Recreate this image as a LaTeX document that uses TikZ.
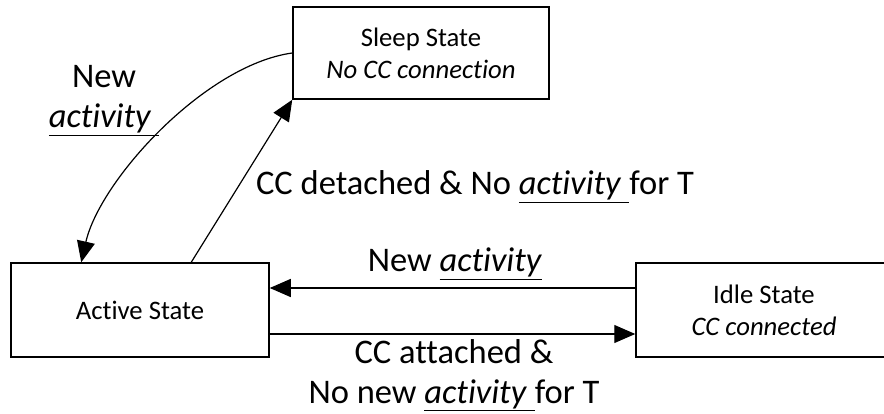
\documentclass[tikz,border=0pt]{standalone}
\usepackage{fontspec}
\setmainfont{Carlito}[Ligatures=NoCommon]
\usetikzlibrary{arrows.meta,calc}
\begin{document}
\begin{tikzpicture}[x=1pt,y=-1pt,
  box/.style={draw, line width=1.5pt, align=center, inner sep=0pt, font=\fontsize{26.7}{32}\selectfont},
  lbl/.style={align=center, inner sep=0pt, font=\fontsize{34.5}{40}\selectfont},
  arr/.style={line width=1.2pt, -{Triangle[length=21pt,width=18pt]}}]
\useasboundingbox (0,0) rectangle (884,414);
\node[box, minimum width=256pt, minimum height=92pt] (sleep) at (421,53) {Sleep State\\\textit{No CC connection}};
\node[box, minimum width=258pt, minimum height=94pt] (active) at (140,310) {Active State};
\node[box, minimum width=256pt, minimum height=94pt] (idle) at (764,310) {Idle State\\\textit{CC connected}};
\coordinate (curveend) at ($(active.north west)+(71,0)$);
\coordinate (upstart) at ($(active.north west)+(181,0)$);
\draw[arr] (sleep.west) .. controls (205,65) and (100,180) .. (curveend);
\draw[arr] (upstart) -- (sleep.south west);
\draw[arr] ($(idle.west)+(0,-22)$) -- ($(active.east)+(0,-22)$);
\draw[arr] ($(active.east)+(0,24)$) -- ($(idle.west)+(0,24)$);
\node[lbl, anchor=base] (lnew) at (104,128) {New\\\underline{\textit{activity}\ }};
\node[lbl, anchor=base] (ldet) at (475,195) {CC detached \& No \underline{\textit{activity}\ }for T};
\node[lbl, anchor=base] (lidle) at (455,272) {New \underline{\textit{activity}}};
\node[lbl, anchor=base] (lact) at (454,403) {CC attached \&\\No new \underline{\textit{activity}\ }for T};
\end{tikzpicture}
\end{document}
